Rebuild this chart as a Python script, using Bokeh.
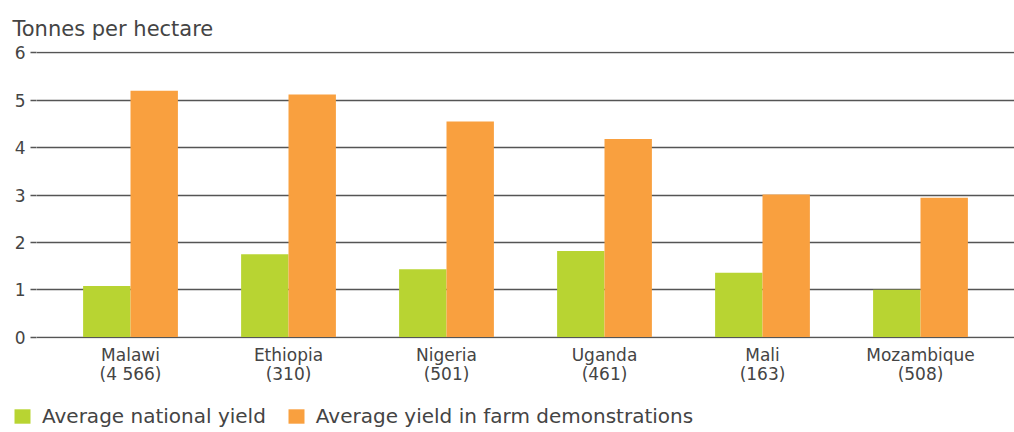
from bokeh.plotting import figure
from bokeh.models import (Range1d, Legend, LegendItem, ColumnDataSource,
                          FixedTicker, LinearAxis)
from bokeh.embed import file_html
from bokeh.resources import INLINE

countries = ["Malawi", "Ethiopia", "Nigeria", "Uganda", "Mali", "Mozambique"]
sample_sizes = ["(4 566)", "(310)", "(501)", "(461)", "(163)", "(508)"]
national_yield = [1.08, 1.75, 1.43, 1.82, 1.36, 1.00]
demo_yield = [5.20, 5.12, 4.55, 4.18, 3.01, 2.94]
y_ticks = [0, 1, 2, 3, 4, 5, 6]
y_label = "Tonnes per hectare"
series_names = ["Average national yield", "Average yield in farm demonstrations"]

GREEN = "#b8d432"
ORANGE = "#f9a03f"
TEXT = "#444444"
GRID = "#555555"
FONT = "DejaVu Sans"

idx = list(range(len(countries)))
BAR_W = 0.3
src = ColumnDataSource(dict(
    x_nat=[i - BAR_W / 2 for i in idx], x_demo=[i + BAR_W / 2 for i in idx],
    nat=national_yield, demo=demo_yield))

PAD = 0.095
p = figure(
    x_range=Range1d(idx[0] - 0.5 - PAD, idx[-1] + 0.5 + PAD),
    y_range=Range1d(-0.03, 6.03),
    width=1014, height=396,
    output_backend="svg", toolbar_location=None,
    min_border_left=36, min_border_right=0, min_border_top=51, min_border_bottom=58,
    title=y_label, x_axis_type=None,
)
p.outline_line_color = None
p.background_fill_color = "white"

p.title.align = "left"
p.title.offset = -24
p.title.text_font = FONT
p.title.text_font_size = "21px"
p.title.text_font_style = "normal"
p.title.text_color = TEXT
p.title.standoff = 22

r1 = p.vbar(x="x_nat", top="nat", width=BAR_W, source=src, fill_color=GREEN, line_color=None)
r2 = p.vbar(x="x_demo", top="demo", width=BAR_W, source=src, fill_color=ORANGE, line_color=None)

# grid
p.xgrid.grid_line_color = None
p.ygrid.ticker = FixedTicker(ticks=y_ticks)
p.ygrid.grid_line_color = GRID
p.ygrid.grid_line_width = 1.6
p.ygrid.level = "underlay"

# y axis
p.yaxis.ticker = FixedTicker(ticks=y_ticks)
p.yaxis.axis_line_color = None
p.yaxis.major_tick_line_color = GRID
p.yaxis.major_tick_line_width = 1.6
p.yaxis.major_tick_in = 0
p.yaxis.major_tick_out = 6
p.yaxis.minor_tick_line_color = None
p.yaxis.major_label_standoff = 5
p.yaxis.major_label_text_font = FONT
p.yaxis.major_label_text_font_size = "17px"
p.yaxis.major_label_text_color = TEXT


def cat_axis(labels, standoff):
    return LinearAxis(
        ticker=FixedTicker(ticks=idx),
        major_label_overrides={i: lab for i, lab in zip(idx, labels)},
        axis_line_color=None, major_tick_line_color=None, minor_tick_line_color=None,
        major_label_standoff=standoff, major_label_text_font=FONT,
        major_label_text_font_size="17px", major_label_text_color=TEXT,
    )


p.add_layout(cat_axis(countries, 0), "below")
p.add_layout(cat_axis(sample_sizes, -10), "below")

# legend strip underneath (separate root, so its frame starts at the left edge)
lg = figure(width=1014, height=36, output_backend="svg", toolbar_location=None,
            x_axis_type=None, y_axis_type=None,
            min_border=0, min_border_left=0, min_border_right=0,
            min_border_top=0, min_border_bottom=0,
            x_range=Range1d(0, 1), y_range=Range1d(0, 1))
lg.outline_line_color = None
lg.xgrid.visible = False
lg.ygrid.visible = False
k1 = lg.vbar(x="x_nat", top="nat", width=BAR_W, source=src, fill_color=GREEN,
             line_color=None, visible=False)
k2 = lg.vbar(x="x_demo", top="demo", width=BAR_W, source=src, fill_color=ORANGE,
             line_color=None, visible=False)
legend = Legend(items=[LegendItem(label=series_names[0], renderers=[k1]),
                       LegendItem(label=series_names[1], renderers=[k2])],
                orientation="horizontal", location=(12, 4),
                label_text_font=FONT, label_text_font_size="20px", label_text_color=TEXT,
                glyph_width=20, glyph_height=18, spacing=20, label_standoff=10,
                border_line_color=None, background_fill_alpha=0,
                inactive_fill_alpha=0, padding=0, margin=0)
lg.add_layout(legend)

open("out.html", "w").write(file_html([p, lg], INLINE))
